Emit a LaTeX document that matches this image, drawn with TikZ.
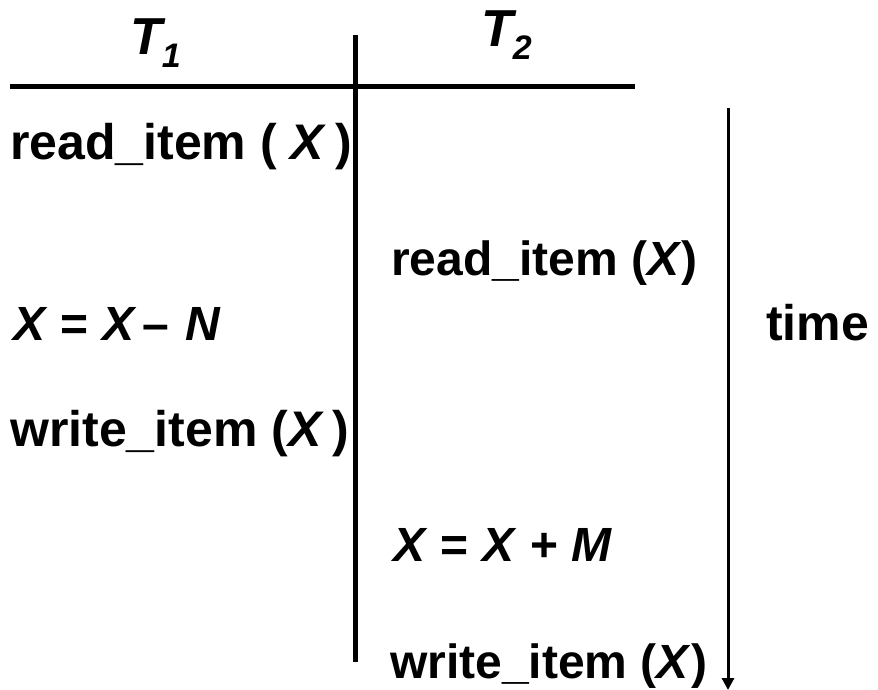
\documentclass[tikz,border=0pt]{standalone}
\usepackage{fontspec}
\setmainfont{Liberation Sans}
\usetikzlibrary{arrows.meta}
\begin{document}
\begin{tikzpicture}[x=1pt,y=-1pt,
  lbl/.style={anchor=base west,inner sep=0pt,font=\fontsize{48}{56}\selectfont\bfseries},
  lblb/.style={lbl,font=\fontsize{50}{58}\selectfont\bfseries},
  hdr/.style={anchor=base west,inner sep=0pt,font=\fontsize{52}{60}\selectfont\bfseries\itshape},
  rule/.style={line width=5pt}]
\newcommand{\subdig}[1]{\raisebox{-13pt}{\fontsize{34}{40}\selectfont #1}}
\useasboundingbox (0,0) rectangle (878,690);
\node[hdr] (t1) at (130,55) {T\subdig{1}};
\node[hdr] (t2) at (481,47) {T\subdig{2}};
\coordinate (hl) at (10,87);
\coordinate (hr) at (635,87);
\coordinate (vt) at (355,35);
\coordinate (vb) at (355,662);
\draw[rule] (hl) -- (hr);
\draw[rule] (vt) -- (vb);
\node[lblb] (a1) at (10,160) {read\_item ( \textit{X}\,)};
\node[lbl] (b1) at (391,275) {read\_item (\textit{X})};
\node[lbl] (a2) at (13,340) {\textit{X} = \textit{X}\hspace{0.12em}–\hspace{0.35em}\textit{N}};
\node[lblb] (a3) at (10,446) {write\_item (\textit{X}\,)};
\node[lbl] (b2) at (393,561) {\textit{X} = \textit{X} + \textit{M}};
\node[lbl] (b3) at (390,678) {write\_item (\textit{X})};
\node[lblb] (tm) at (766,340) {time};
\coordinate (at) at (728,108);
\coordinate (ab) at (728,690);
\draw[line width=3pt,-{Triangle[length=12pt,width=12pt]}] (at) -- (ab);
\end{tikzpicture}
\end{document}
